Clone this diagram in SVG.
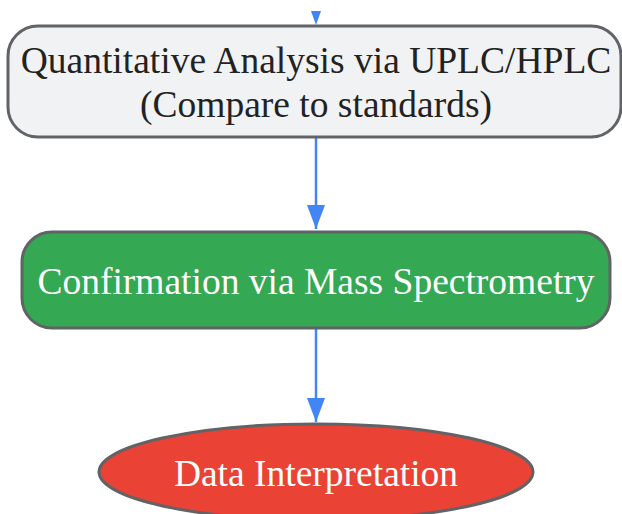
<svg xmlns="http://www.w3.org/2000/svg" width="622" height="514" viewBox="0 0 622 514">
<style>
.lbl{font-family:"Liberation Serif","Times New Roman",serif;font-size:37.5px;text-anchor:middle}
.node{stroke:#616366;stroke-width:3}
.edge{stroke:#4285f4;stroke-width:2.5;fill:none}
</style>
<defs>
<marker id="ah" viewBox="0 0 10 10" refX="10" refY="5" markerWidth="24" markerHeight="18" markerUnits="userSpaceOnUse" orient="auto" preserveAspectRatio="none">
<path d="M0,0 L10,5 L0,10 z" fill="#4285f4"/>
</marker>
</defs>
<g id="connectors">
<path d="M311,11 L321,11 L316,25 z" fill="#4285f4"/>
<path class="edge" d="M316,138 L316,229" marker-end="url(#ah)"/>
<path class="edge" d="M316,328 L316,422" marker-end="url(#ah)"/>
</g>
<g id="quant">
<rect class="node" x="8" y="26" width="613" height="111" rx="30" fill="#f1f2f4"/>
<text class="lbl" x="316" y="73" fill="#222">Quantitative Analysis via UPLC/HPLC</text>
<text class="lbl" x="316" y="117" fill="#222">(Compare to standards)</text>
</g>
<g id="confirm">
<rect class="node" x="22" y="232" width="588" height="96" rx="30" fill="#34a853"/>
<text class="lbl" x="316" y="294" fill="#fff">Confirmation via Mass Spectrometry</text>
</g>
<g id="interp">
<ellipse class="node" cx="316" cy="472" rx="217" ry="48" fill="#ea4335"/>
<text class="lbl" x="316" y="486" fill="#fff">Data Interpretation</text>
</g>
</svg>
